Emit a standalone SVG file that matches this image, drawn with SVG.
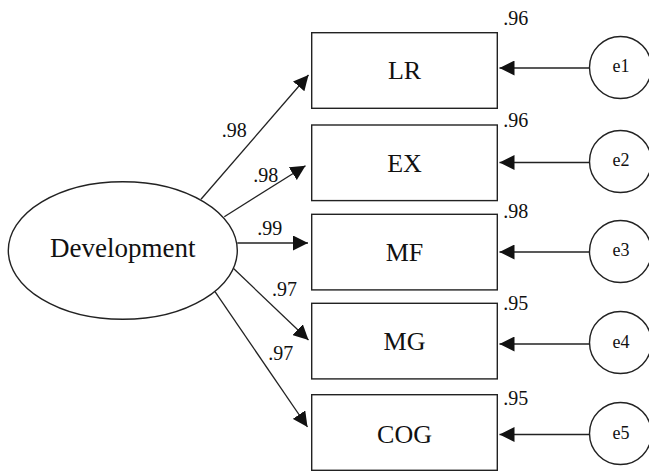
<svg xmlns="http://www.w3.org/2000/svg" width="649" height="471" viewBox="0 0 649 471">
<style>
.n{fill:#fff;stroke:#222;stroke-width:1.4}
text{font-family:'Liberation Serif',serif;fill:#111}
.t{text-anchor:middle}
.big{font-size:26px}
.lab{font-size:20px}
.e{font-size:18px}
.c{stroke:#222;stroke-width:1.3;fill:none;marker-end:url(#ah)}
</style>
<defs>
<marker id="ah" markerUnits="userSpaceOnUse" markerWidth="16" markerHeight="15" refX="15" refY="7.5" orient="auto">
<path d="M0,0 L15,7.5 L0,15 z" fill="#111"/>
</marker>
</defs>
<rect width="649" height="471" fill="#fff"/>
<g id="connectors">
<line class="c" x1="201" y1="199.3" x2="308.5" y2="75"/>
<line class="c" x1="224.3" y1="216.7" x2="305.5" y2="165.7"/>
<line class="c" x1="237.3" y1="243" x2="308" y2="243"/>
<line class="c" x1="233.3" y1="268.3" x2="308.5" y2="340"/>
<line class="c" x1="215" y1="291.7" x2="307.5" y2="427"/>
<line class="c" x1="589.5" y1="68" x2="499.5" y2="68"/>
<line class="c" x1="589.5" y1="162.5" x2="499.5" y2="162.5"/>
<line class="c" x1="589.5" y1="252" x2="499.5" y2="252"/>
<line class="c" x1="589.5" y1="344" x2="499.5" y2="344"/>
<line class="c" x1="589.5" y1="434.5" x2="499.5" y2="434.5"/>
</g>
<g id="Development">
<ellipse class="n" cx="122.8" cy="250.5" rx="114.5" ry="68.8"/>
<text class="t" x="122.7" y="256.7" font-size="27" font-family="Liberation Serif, serif">Development</text>
</g>
<g id="LR">
<rect class="n" x="311.7" y="32.7" width="185.6" height="75.6"/>
<text class="t big" x="404.5" y="79.3">LR</text>
<text class="lab" x="503.3" y="25">.96</text>
</g>
<g id="EX">
<rect class="n" x="311.7" y="125" width="185.6" height="75.6"/>
<text class="t big" x="404.5" y="171.5">EX</text>
<text class="lab" x="503.3" y="126.7">.96</text>
</g>
<g id="MF">
<rect class="n" x="311.7" y="214.3" width="185.6" height="75.6"/>
<text class="t big" x="404.5" y="261">MF</text>
<text class="lab" x="503.3" y="218.3">.98</text>
</g>
<g id="MG">
<rect class="n" x="311.7" y="303.3" width="185.6" height="75.6"/>
<text class="t big" x="404.5" y="350">MG</text>
<text class="lab" x="503.3" y="310">.95</text>
</g>
<g id="COG">
<rect class="n" x="311.7" y="394.7" width="185.6" height="75.6"/>
<text class="t big" x="404.5" y="442.5">COG</text>
<text class="lab" x="503.3" y="405">.95</text>
</g>
<g id="e1"><circle class="n" cx="620.5" cy="67.5" r="31"/><text class="t e" x="621" y="71.7">e1</text></g>
<g id="e2"><circle class="n" cx="620.5" cy="161.5" r="31"/><text class="t e" x="621" y="166">e2</text></g>
<g id="e3"><circle class="n" cx="620.5" cy="251.5" r="31"/><text class="t e" x="621" y="256">e3</text></g>
<g id="e4"><circle class="n" cx="620.5" cy="342.5" r="31"/><text class="t e" x="621" y="348">e4</text></g>
<g id="e5"><circle class="n" cx="620.5" cy="433.5" r="31"/><text class="t e" x="621" y="439">e5</text></g>
<g id="path-labels">
<text class="lab" x="221.7" y="137.3">.98</text>
<text class="lab" x="253.3" y="181.7">.98</text>
<text class="lab" x="257.3" y="235">.99</text>
<text class="lab" x="272" y="296">.97</text>
<text class="lab" x="268.3" y="360">.97</text>
</g>
</svg>
